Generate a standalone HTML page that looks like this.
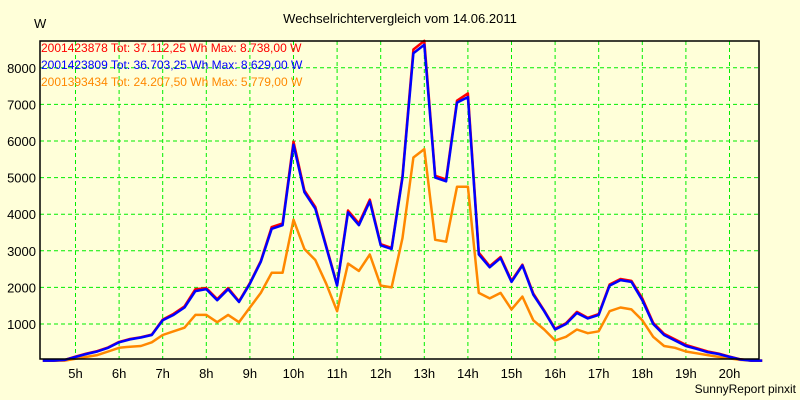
<!DOCTYPE html>
<html><head><meta charset="utf-8"><style>
body{margin:0;background:#ffffd9;}
svg{display:block;font-family:"Liberation Sans",sans-serif;}
</style></head><body>
<svg id="chart" width="800" height="400" viewBox="0 0 800 400">
<rect width="800" height="400" fill="#ffffd9"/>
<text x="400" y="23" font-size="13" text-anchor="middle">Wechselrichtervergleich vom 14.06.2011</text>
<text x="34" y="28" font-size="13">W</text>
<text x="796" y="393" font-size="12" text-anchor="end">SunnyReport pinxit</text>
<g id="grid"></g><g id="series"></g><g id="axes"></g>
<text x="41" y="52" font-size="12" fill="#ff0000">2001423878 Tot: 37.112,25 Wh Max: 8.738,00 W</text>
<text x="41" y="69" font-size="12" fill="#0000ff">2001423809 Tot: 36.703,25 Wh Max: 8.629,00 W</text>
<text x="41" y="86" font-size="12" fill="#ff8800">2001393434 Tot: 24.207,50 Wh Max: 5.779,00 W</text>
</svg>
<script>
const startHour = 4.25;
const stepHours = 0.25;
const blueValues = [0,0,20,100,180,250,350,500,580,630,700,1100,1250,1450,1900,1950,1650,1950,1600,2100,2700,3600,3700,5900,4600,4150,3100,2050,4050,3700,4350,3150,3050,5000,8400,8629,5000,4900,7050,7200,2900,2550,2800,2150,2600,1800,1350,850,1000,1300,1150,1250,2050,2200,2150,1650,1000,700,550,400,320,230,180,100,30,0,0];
const redValues = [0,0,20,110,190,260,360,510,590,640,710,1120,1280,1480,1950,1980,1680,1980,1620,2120,2720,3650,3750,5980,4650,4200,3130,2070,4100,3750,4400,3180,3080,5050,8500,8738,5050,4950,7100,7300,2950,2580,2830,2180,2620,1830,1370,870,1020,1330,1170,1270,2080,2230,2180,1700,1030,730,580,430,340,250,190,110,35,0,0];
const orangeValues = [0,0,0,50,100,150,250,350,380,400,500,700,800,900,1250,1250,1050,1250,1050,1450,1850,2400,2400,3850,3050,2750,2100,1350,2650,2450,2900,2050,2000,3350,5550,5779,3300,3250,4750,4750,1850,1700,1850,1400,1750,1100,850,550,650,850,750,800,1350,1450,1400,1100,650,400,350,250,200,150,100,60,20,0,0];
const hourTicks = ["5h","6h","7h","8h","9h","10h","11h","12h","13h","14h","15h","16h","17h","18h","19h","20h"];
const hourTickValues = [5,6,7,8,9,10,11,12,13,14,15,16,17,18,19,20];
const yTicks = [1000,2000,3000,4000,5000,6000,7000,8000];

const NS="http://www.w3.org/2000/svg";
const L=40,R=759,T=41,B=359;
function xs(h){return 75.5+(h-5)*43.6;}
function ys(v){return 360.6-v*0.0366;}
function el(tag,attrs,parent){const e=document.createElementNS(NS,tag);for(const k in attrs)e.setAttribute(k,attrs[k]);parent.appendChild(e);return e;}
const grid=document.getElementById('grid'),axes=document.getElementById('axes'),series=document.getElementById('series');
hourTickValues.forEach((h,i)=>{
  const g=el('line',{x1:xs(h),x2:xs(h),y1:T,y2:B,stroke:'#00ee00','stroke-dasharray':'4,3','stroke-width':1},grid);
  
  
  const t=el('text',{x:xs(h),y:378,'font-size':13,'text-anchor':'middle'},axes);
  t.textContent=hourTicks[i];
  
  
});
yTicks.forEach(v=>{
  const g=el('line',{x1:L,x2:R,y1:ys(v),y2:ys(v),stroke:'#00ee00','stroke-dasharray':'4,3','stroke-width':1},grid);
  
  
  const t=el('text',{x:36,y:ys(v)+5,'font-size':13,'text-anchor':'end'},axes);
  t.textContent=String(v);
  
  
});
const frame=el('rect',{x:L,y:T,width:R-L,height:B-T,fill:'none',stroke:'#000','stroke-width':1.5},axes);


function drawLine(vals,color,name){
  const pts=vals.map((v,i)=>xs(startHour+i*stepHours).toFixed(1)+','+ys(v).toFixed(1)).join(' ');
  const p=el('polyline',{points:pts,fill:'none',stroke:color,'stroke-width':2.5,'stroke-linejoin':'round'},series);
  
  
}
drawLine(orangeValues,'#ff8800','series-2001393434');
drawLine(redValues,'#ff0000','series-2001423878');
drawLine(blueValues,'#0000ff','series-2001423809');
</script>
</body></html>
